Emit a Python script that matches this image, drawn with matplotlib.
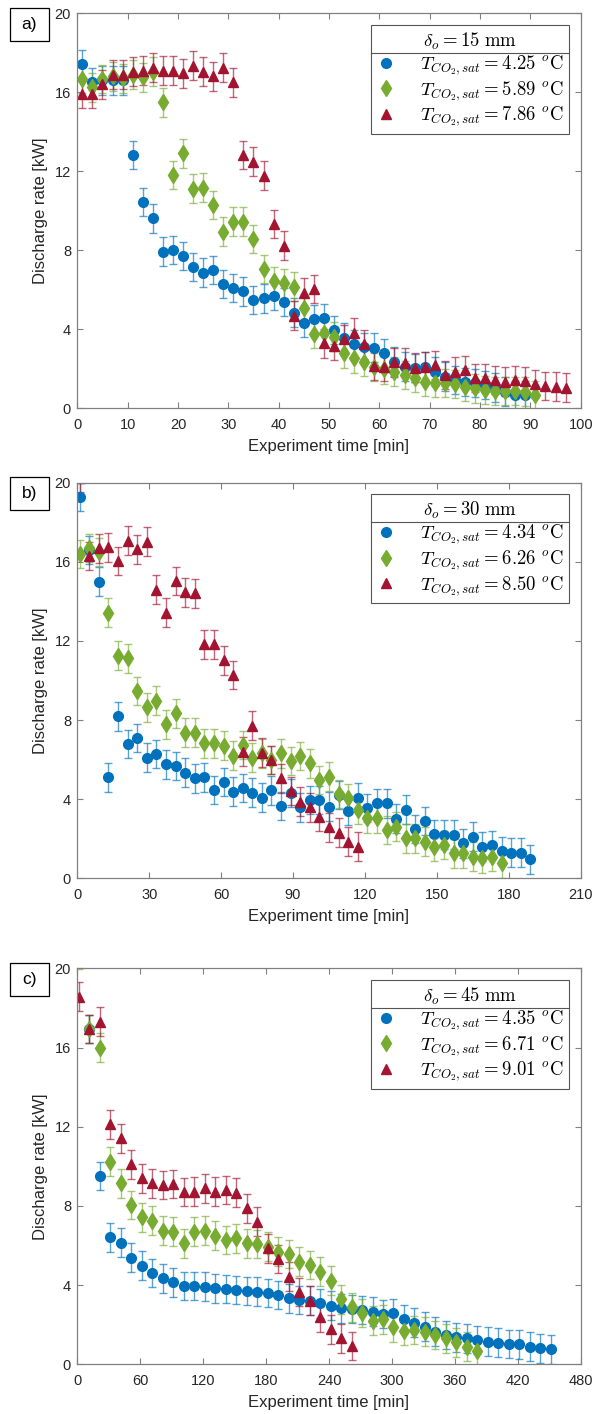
import numpy as np
import matplotlib
matplotlib.use('Agg')
import matplotlib.pyplot as plt
from matplotlib.lines import Line2D
from matplotlib.patches import Rectangle

plt.rcParams['font.family'] = ['Liberation Sans', 'DejaVu Sans']
plt.rcParams['mathtext.fontset'] = 'cm'

# ── data ──────────────────────────────────────────────────────
ERR = 0.72

# a) delta_o = 15 mm
t_a_blue  = np.arange(1, 90, 2)
q_a_blue  = [17.42, 16.5, 16.6, 16.6, 16.6, 12.83, 10.45, 9.62, 7.93, 8.02,
             7.71, 7.16, 6.87, 7.0, 6.3, 6.09, 5.92, 5.49, 5.57, 5.7,
             5.38, 4.84, 4.34, 4.5, 4.56, 3.97, 3.58, 3.24, 3.09, 3.07,
             2.78, 2.36, 2.11, 2.03, 2.11, 1.86, 1.6, 1.43, 1.32, 1.27,
             1.18, 1.05, 0.84, 0.68, 0.68]
t_a_green = np.arange(1, 92, 2)
q_a_green = [16.67, 16.25, 16.67, 16.8, 16.7, 16.9, 16.76, 17.05, 15.49, 11.81,
             12.91, 11.12, 11.17, 10.28, 8.95, 9.45, 9.45, 8.56, 7.04, 6.45,
             6.33, 6.16, 5.06, 3.75, 3.8, 3.63, 2.78, 2.53, 2.36, 2.1,
             1.97, 1.86, 1.69, 1.52, 1.35, 1.27, 1.27, 1.23, 1.1, 1.01,
             0.93, 0.89, 0.89, 0.89, 0.84, 0.68]
t_a_red   = np.arange(1, 98, 2)
q_a_red   = [15.9, 15.9, 16.4, 16.9, 16.9, 17.05, 17.1, 17.25, 17.1, 17.1,
             16.96, 17.35, 17.05, 16.8, 17.25, 16.5, 12.83, 12.49, 11.78, 9.32,
             8.24, 4.69, 5.86, 6.03, 3.29, 3.17, 3.51, 3.83, 3.24, 2.16,
             2.11, 2.33, 2.31, 2.06, 2.11, 2.19, 1.69, 1.86, 1.94, 1.52,
             1.52, 1.43, 1.35, 1.43, 1.38, 1.23, 1.13, 1.1, 1.05]

# b) delta_o = 30 mm
t_b_blue  = np.arange(1, 190, 4)
q_b_blue  = [19.29, 16.6, 15.0, 5.1, 8.19, 6.79, 7.08, 6.1, 6.28, 5.76,
             5.68, 5.34, 5.05, 5.1, 4.47, 4.87, 4.38, 4.57, 4.33, 4.08,
             4.45, 3.66, 4.3, 3.59, 3.96, 3.96, 3.62, 4.2, 3.4, 4.08,
             3.56, 3.79, 3.79, 3.02, 3.47, 2.49, 2.9, 2.24, 2.21, 2.21,
             1.77, 2.11, 1.6, 1.69, 1.38, 1.3, 1.3, 0.96]
t_b_green = np.arange(1, 178, 4)
q_b_green = [16.4, 16.7, 16.5, 13.43, 11.26, 11.12, 9.47, 8.64, 8.98, 7.78,
             8.34, 7.36, 7.36, 6.82, 6.82, 6.71, 6.2, 6.74, 6.1, 6.32,
             5.98, 6.32, 5.93, 6.18, 5.81, 4.97, 5.14, 4.25, 4.04, 3.45,
             3.03, 3.03, 2.44, 2.61, 2.02, 2.02, 1.85, 1.6, 1.68, 1.26,
             1.26, 1.1, 1.01, 1.1, 0.76]
t_b_red   = np.arange(1, 118, 4)
q_b_red   = [20.25, 16.3, 16.68, 16.73, 16.04, 17.07, 16.63, 17.02, 14.6, 13.43,
             15.03, 14.46, 14.4, 11.83, 11.83, 11.02, 10.28, 6.4, 7.72, 6.35,
             5.98, 5.05, 4.41, 3.88, 3.59, 3.12, 2.58, 2.31, 1.85, 1.6]

# c) delta_o = 45 mm
t_c_blue  = np.arange(11.5, 452, 10)
q_c_blue  = [16.94, 9.51, 6.41, 6.14, 5.39, 4.98, 4.61, 4.34, 4.14, 3.96,
             3.96, 3.92, 3.84, 3.8, 3.75, 3.69, 3.67, 3.59, 3.5, 3.33,
             3.25, 3.22, 3.08, 2.96, 2.83, 2.79, 2.74, 2.66, 2.54, 2.58,
             2.29, 2.1, 1.9, 1.65, 1.48, 1.36, 1.31, 1.23, 1.14, 1.09,
             1.03, 1.01, 0.89, 0.81, 0.76]
t_c_green = np.arange(1.5, 382, 10)
q_c_green = [20.7, 16.94, 15.99, 10.24, 9.14, 8.05, 7.42, 7.26, 6.75, 6.7,
             6.11, 6.7, 6.75, 6.5, 6.28, 6.36, 6.11, 6.08, 5.94, 5.69,
             5.57, 5.19, 5.02, 4.68, 4.23, 3.28, 2.88, 2.58, 2.21, 2.27,
             1.87, 1.68, 1.73, 1.65, 1.48, 1.31, 1.11, 0.89, 0.67]
t_c_red   = np.arange(1.5, 262, 10)
q_c_red   = [18.57, 16.94, 17.31, 12.12, 11.41, 10.1, 9.39, 9.14, 9.06, 9.11,
             8.69, 8.72, 8.89, 8.72, 8.8, 8.67, 7.88, 7.21, 5.86, 5.32,
             4.43, 3.64, 3.22, 2.37, 1.77, 1.31, 0.93]

panels = [
    dict(tag='a)', delta='15', xmax=100, xstep=10,
         series=[(t_a_blue, q_a_blue, '4.25'), (t_a_green, q_a_green, '5.89'),
                 (t_a_red, q_a_red, '7.86')]),
    dict(tag='b)', delta='30', xmax=210, xstep=30,
         series=[(t_b_blue, q_b_blue, '4.34'), (t_b_green, q_b_green, '6.26'),
                 (t_b_red, q_b_red, '8.50')]),
    dict(tag='c)', delta='45', xmax=480, xstep=60,
         series=[(t_c_blue, q_c_blue, '4.35'), (t_c_green, q_c_green, '6.71'),
                 (t_c_red, q_c_red, '9.01')]),
]

COLORS  = ['#0072BD', '#77AC30', '#A2142F']
MARKERS = [('o', 7), ('d', 8.5), ('^', 7.5)]

W, H = 596, 1414
fig = plt.figure(figsize=(W / 100, H / 100), dpi=100)

# axes boxes in pixels: (left, top, right, bottom)
boxes = [(77.3, 13.3, 580.7, 408.3),
         (77.3, 482.7, 580.7, 878.3),
         (77.3, 968.3, 580.7, 1364.3)]

legends = []
for p, (l, t, r, b) in zip(panels, boxes):
    ax = fig.add_axes([l / W, 1 - b / H, (r - l) / W, (b - t) / H])
    handles, labels = [], []
    for (tt, qq, tsat), c, (m, ms) in zip(p['series'], COLORS, MARKERS):
        cont = ax.errorbar(tt, qq, yerr=ERR, fmt=m, ms=ms, color=c, mec=c,
                           ecolor=c, elinewidth=1.0, capsize=3, capthick=1.0)
        for cap in cont[1]:
            cap.set_alpha(0.65)
        for bl in cont[2]:
            bl.set_alpha(0.65)
        handles.append(Line2D([], [], marker=m, ms=ms, ls='none', color=c))
        labels.append(r'$T_{CO_2,sat}=' + tsat + r'\ ^{o}\mathrm{C}$')

    ax.set_xlim(0, p['xmax'])
    ax.set_ylim(0, 20)
    ax.set_xticks(np.arange(0, p['xmax'] + 1, p['xstep']))
    ax.set_yticks([0, 4, 8, 12, 16, 20])
    ax.tick_params(direction='in', top=True, right=True, length=4, width=0.8,
                   color='#808080', labelsize=10.5, labelcolor='#262626')
    ax.tick_params(axis='x', pad=7)
    ax.tick_params(axis='y', pad=4.5)
    for s in ax.spines.values():
        s.set_edgecolor('#808080')
        s.set_linewidth(0.9)
    ax.set_xlabel('Experiment time [min]', fontsize=12, color='#262626', labelpad=5)
    ax.set_ylabel('Discharge rate [kW]', fontsize=12, color='#262626', labelpad=5)

    leg = ax.legend(handles, labels, title=r'$\delta_o = ' + p['delta'] + r'\ \mathrm{mm}$',
                    loc='upper right', bbox_to_anchor=(0.977, 0.971), borderaxespad=0,
                    fontsize=13.5, title_fontsize=13.5, fancybox=False, framealpha=1,
                    edgecolor='#555555', handlelength=1.0, handletextpad=1.3,
                    labelspacing=0.1, borderpad=0.3)
    leg.get_frame().set_linewidth(0.8)
    legends.append(leg)

    # panel tag box
    cy = t + 11
    fig.add_artist(Rectangle((10 / W, 1 - (cy + 16.5) / H), 39 / W, 33 / H,
                             transform=fig.transFigure, fc='white', ec='black', lw=0.9))
    fig.text(29.5 / W, 1 - cy / H, p['tag'], ha='center', va='center', fontsize=12.5)

# separator line between legend title and entries
fig.canvas.draw()
rend = fig.canvas.get_renderer()
for leg in legends:
    fb = leg.get_frame().get_window_extent(rend)
    tb = leg.get_title().get_window_extent(rend)
    y = tb.y0 - 1.5
    fig.add_artist(Line2D([fb.x0 / W, fb.x1 / W], [y / H, y / H],
                          transform=fig.transFigure, color='#555555', lw=0.8))

fig.savefig('out.png', dpi=100)
